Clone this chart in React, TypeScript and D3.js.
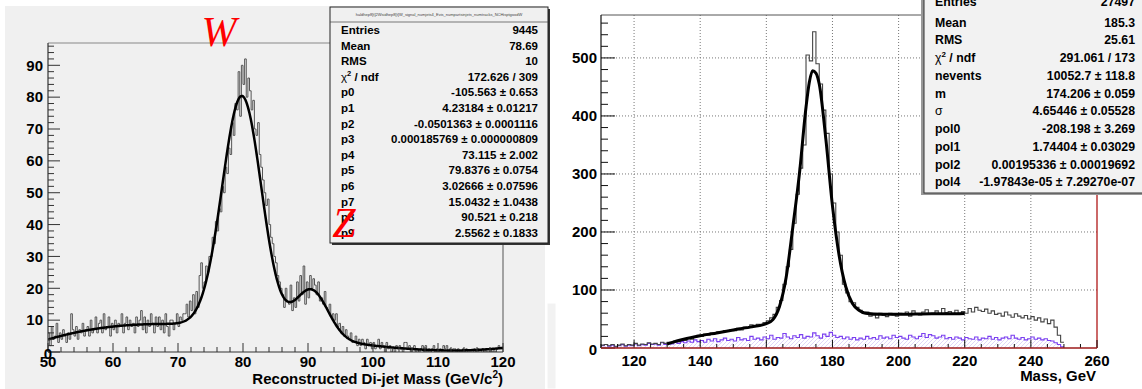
import React from 'react';
import * as d3 from 'd3';

const FONT = "'Liberation Sans', Arial, Helvetica, sans-serif";
const SERIF = "'Liberation Serif', 'Times New Roman', serif";

// ---------- left pad: reconstructed di-jet mass (W / Z) ----------
const wBinLo = 50;
const wBinWidth = 0.25;
// counts per bin, 50.00 .. 119.75 (one row per GeV)
const wCounts = [
  6, 2, 8, 4, 5, 9, 3, 6, 4, 7, 5, 3, 6, 4, 12, 7, 5, 8, 4, 7,
  6, 9, 5, 7, 8, 5, 10, 6, 7, 11, 6, 9, 10, 6, 12, 7, 8, 11, 5, 9,
  7, 10, 6, 9, 8, 12, 6, 9, 11, 7, 10, 8, 9, 6, 11, 8, 10, 13, 7, 11,
  6, 10, 8, 12, 9, 6, 11, 8, 11, 7, 10, 6, 12, 8, 5, 10, 10, 7, 9, 12,
  8, 11, 10, 12, 12, 15, 11, 16, 13, 18, 12, 19, 14, 24, 28, 20, 22, 27, 25, 30,
  30, 36, 34, 41, 38, 45, 44, 52, 50, 58, 56, 64, 62, 72, 68, 78, 76, 88, 74, 90,
  84, 92, 80, 86, 82, 76, 79, 70, 68, 72, 62, 58, 54, 50, 46, 48, 40, 36, 34, 30,
  28, 24, 22, 20, 18, 14, 20, 16, 15, 21, 13, 17, 14, 22, 16, 24, 18, 27, 15, 22,
  17, 24, 20, 23, 21, 18, 22, 16, 17, 15, 19, 14, 13, 15, 11, 12, 10, 12, 8, 9,
  6, 8, 5, 7, 5, 4, 6, 3, 3, 5, 2, 4, 2, 4, 3, 1, 4, 2, 3, 1,
  3, 1, 2, 4, 1, 3, 2, 0, 3, 1, 2, 0, 1, 0, 2, 1, 2, 1, 0, 3,
  3, 1, 2, 0, 1, 2, 0, 1, 0, 1, 2, 0, 2, 0, 1, 0, 1, 2, 0, 1,
  0, 1, 0, 2, 1, 2, 0, 1, 0, 1, 1, 0, 1, 0, 0, 1, 0, 1, 0, 0,
  0, 0, 1, 0, 1, 0, 0, 1, 0, 1, 0, 0, 1, 0, 1, 0, 1, 2, 1, 1,
];
// fit parameters as printed in the stat box (pol3 + gaus + gaus)
const wFitPoly = [-105.563, 4.23184, -0.0501363, 0.000185769];
const wFitGausW = [73.115, 79.8376, 3.02666];
const wFitGausZ = [15.0432, 90.521, 2.5562];
const wXTicks = [50, 60, 70, 80, 90, 100, 110, 120];
const wYTicks = [0, 10, 20, 30, 40, 50, 60, 70, 80, 90];
const wStatLabels = ['Entries', 'Mean', 'RMS', 'chi2', 'p0', 'p1', 'p2', 'p3', 'p4', 'p5', 'p6', 'p7', 'p8', 'p9'];
const wStatValues = [
  '9445', '78.69', '10', '172.626 / 309',
  '-105.563 ± 0.653', '4.23184 ± 0.01217', '-0.0501363 ± 0.0001116',
  '0.000185769 ± 0.000000809', '73.115 ± 2.002', '79.8376 ± 0.0754',
  '3.02666 ± 0.07596', '15.0432 ± 1.0438', '90.521 ± 0.218', '2.5562 ± 0.1833',
];
const wBoxTitle = 'haldhep8[t]2Wsidhep8[t]W_signal_numjets4_Evis_numpartsinjets_numtracks_NCHisptgoodW';

// ---------- right pad: top mass ----------
const tBinLo = 110;
const tBinWidth = 1;
// total, 110 .. 249
const tTotal = [
  5, 6, 4, 6, 3, 5, 7, 4, 6, 5,
  8, 5, 7, 6, 9, 7, 8, 6, 10, 8,
  10, 9, 12, 11, 14, 13, 17, 15, 19, 22,
  20, 24, 22, 26, 25, 28, 27, 30, 29, 32,
  30, 34, 31, 36, 35, 40, 37, 41, 39, 44,
  47, 52, 58, 70, 82, 110, 140, 170, 215, 265,
  310, 350, 505, 495, 545, 490, 455, 410, 370, 300,
  250, 200, 160, 110, 95, 80, 78, 70, 65, 60,
  62, 55, 58, 52, 60, 56, 54, 60, 57, 55,
  60, 58, 62, 55, 64, 59, 57, 62, 66, 58,
  60, 64, 59, 68, 61, 63, 58, 65, 60, 63,
  60, 68, 62, 70, 65, 63, 67, 60, 64, 58,
  60, 55, 62, 57, 53, 59, 55, 52, 56, 50,
  54, 48, 52, 45, 50, 42, 48, 36, 22, 10,
];
// background component, 110 .. 249
const tBkg = [
  4, 6, 3, 5, 2, 4, 6, 3, 5, 4,
  7, 4, 6, 5, 8, 6, 7, 5, 9, 6,
  8, 7, 10, 8, 11, 9, 12, 10, 14, 11,
  13, 10, 15, 12, 16, 11, 14, 17, 13, 15,
  12, 18, 14, 16, 13, 20, 15, 17, 14, 19,
  16, 22, 15, 18, 17, 25, 19, 16, 21, 18,
  23, 17, 20, 19, 26, 21, 17, 24, 20, 27,
  22, 18, 20, 16, 19, 15, 18, 14, 17, 15,
  20, 16, 18, 15, 21, 17, 19, 16, 22, 18,
  20, 17, 15, 22, 19, 16, 20, 25, 18, 23,
  21, 17, 19, 22, 16, 18, 15, 19, 17, 14,
  18, 16, 15, 19, 14, 17, 16, 20, 15, 18,
  14, 17, 19, 16, 22, 17, 15, 18, 14, 16,
  19, 15, 17, 14, 16, 13, 12, 9, 6, 2,
];
const tFitX = [130, 135, 140, 145, 150, 155, 160, 162, 164, 166, 168, 170, 172, 173, 174, 175, 176, 178, 180, 182, 184, 186, 188, 190, 195, 200, 205, 210, 215, 220];
const tFitY = [7, 15, 21, 26, 31, 36, 42, 49, 72, 122, 208, 300, 415, 458, 478, 474, 455, 360, 245, 160, 106, 77, 65, 60, 58, 58, 58.5, 59, 59, 59.5];
const tXTicks = [120, 140, 160, 180, 200, 220, 240, 260];
const tYTicks = [0, 100, 200, 300, 400, 500];
const tStatLabels = ['Entries', 'Mean', 'RMS', 'chi2', 'nevents', 'm', 'σ', 'pol0', 'pol1', 'pol2', 'pol4'];
const tStatValues = [
  '27497', '185.3', '25.61', '291.061 / 173', '10052.7 ± 118.8', '174.206 ± 0.059',
  '4.65446 ± 0.05528', '-208.198 ± 3.269', '1.74404 ± 0.03029',
  '0.00195336 ± 0.00019692', '-1.97843e-05 ± 7.29270e-07',
];

type Scale = d3.ScaleLinear<number, number>;

function histPath(counts: number[], lo: number, w: number, x: Scale, y: Scale) {
  const pts: [number, number][] = counts.map((c, i) => [lo + i * w, c]);
  pts.push([lo + counts.length * w, counts[counts.length - 1]]);
  return d3
    .line<[number, number]>()
    .x((d) => x(d[0]))
    .y((d) => y(d[1]))
    .curve(d3.curveStepAfter)(pts) as string;
}

function histArea(counts: number[], lo: number, w: number, x: Scale, y: Scale) {
  const pts: [number, number][] = counts.map((c, i) => [lo + i * w, c]);
  pts.push([lo + counts.length * w, counts[counts.length - 1]]);
  return d3
    .area<[number, number]>()
    .x((d) => x(d[0]))
    .y0(y(0))
    .y1((d) => y(d[1]))
    .curve(d3.curveStepAfter)(pts) as string;
}

function StatLabel({ label, x, y, size }: { label: string; x: number; y: number; size: number }) {
  if (label === 'chi2') {
    return (
      <text x={x} y={y} dy="0.35em" fontSize={size} fontFamily={FONT} fontWeight="bold">
        <tspan fontWeight="normal">χ</tspan>
        <tspan dy={-size * 0.4} fontSize={size * 0.65}>2</tspan>
        <tspan dy={size * 0.4}> / ndf</tspan>
      </text>
    );
  }
  return (
    <text x={x} y={y} dy="0.35em" fontSize={size} fontFamily={FONT} fontWeight={label === 'σ' ? 'normal' : 'bold'}>
      {label}
    </text>
  );
}

const App = () => {
  // left scales
  const xL = d3.scaleLinear().domain([50, 120]).range([48, 503]);
  const yL = d3.scaleLinear().domain([0, 97]).range([352, 43]);
  // right scales
  const xR = d3.scaleLinear().domain([110, 260]).range([601, 1097]);
  const yR = d3.scaleLinear().domain([0, 574]).range([348, 15]);

  const wFit = d3.range(50, 120.001, 0.1).map((m) => {
    const poly = wFitPoly.reduce((s, p, k) => s + p * Math.pow(m, k), 0);
    const g1 = wFitGausW[0] * Math.exp(-0.5 * Math.pow((m - wFitGausW[1]) / wFitGausW[2], 2));
    const g2 = wFitGausZ[0] * Math.exp(-0.5 * Math.pow((m - wFitGausZ[1]) / wFitGausZ[2], 2));
    return [m, poly + g1 + g2] as [number, number];
  });
  const wFitPath = d3
    .line<[number, number]>()
    .x((d) => xL(d[0]))
    .y((d) => yL(d[1]))(wFit) as string;

  const tFitPath = d3
    .line<number>()
    .x((d) => xR(d))
    .y((_, i) => yR(tFitY[i]))
    .curve(d3.curveMonotoneX)(tFitX) as string;

  const wMinorY = d3.range(0, 97, 2);
  const wMinorX = d3.range(50, 120.01, 2);
  const tMinorY = d3.range(0, 574, 20);
  const tMinorX = d3.range(110, 260.01, 5);

  return (
    <svg width={1142} height={389} style={{ position: 'absolute', left: 0, top: 0 }} fontFamily={FONT}>
      <defs>
        <pattern id="hatch" patternUnits="userSpaceOnUse" width={4} height={4}>
          <path d="M0,4 L4,0 M-1,1 L1,-1 M3,5 L5,3" stroke="#cbbaf4" strokeWidth={0.6} />
        </pattern>
        <clipPath id="clipL">
          <rect x={48} y={43} width={455} height={309} />
        </clipPath>
        <clipPath id="clipR">
          <rect x={601} y={15} width={496} height={333} />
        </clipPath>
      </defs>
      <rect x={0} y={0} width={1142} height={389} fill="#fff" />

      {/* ---------------- left pad ---------------- */}
      <rect x={5} y={6} width={540} height={383} fill="#f0f0f0" />
      <rect x={547} y={303} width={9} height={86} fill="#f2f2f2" stroke="#fff" />
      <line x1={48} x2={503} y1={43} y2={43} stroke="#888" strokeWidth={1.2} />
      <line x1={503} x2={503} y1={43} y2={352} stroke="#555" strokeWidth={1} />

      <g clipPath="url(#clipL)">
        <path d={histPath(wCounts, wBinLo, wBinWidth, xL, yL)} fill="none" stroke="#555" strokeWidth={1} />
        <path d={wFitPath} fill="none" stroke="#000" strokeWidth={2.5} />
      </g>

      {/* left axes */}
      <line x1={48} x2={48} y1={43} y2={352} stroke="#333" strokeWidth={1.2} />
      <line x1={48} x2={503} y1={352} y2={352} stroke="#333" strokeWidth={1.2} />
      {wMinorY.map((v) => (
        <line key={'wmy' + v} x1={48} x2={v % 10 === 0 ? 60 : 54} y1={yL(v)} y2={yL(v)} stroke="#333" strokeWidth={1} />
      ))}
      {wMinorX.map((v) => (
        <line key={'wmx' + v} x1={xL(v)} x2={xL(v)} y1={352} y2={v % 10 === 0 ? 343 : 347} stroke="#333" strokeWidth={1} />
      ))}
      {wYTicks.map((v) => (
        <text key={'wyt' + v} x={v === 0 ? 52 : 43} y={v === 0 ? yL(v) + 2 : yL(v)} dy="0.35em" textAnchor="end" fontSize={15} fontWeight="bold">
          {v}
        </text>
      ))}
      {wXTicks.map((v) => (
        <text key={'wxt' + v} x={xL(v)} y={367} textAnchor="middle" fontSize={15} fontWeight="bold">
          {v}
        </text>
      ))}
      <text x={503} y={384} textAnchor="end" fontSize={15} fontWeight="bold">
        Reconstructed Di-jet Mass (GeV/c
        <tspan dy={-6} fontSize={10}>2</tspan>
        <tspan dy={6}>)</tspan>
      </text>

      {/* left stat box */}
      <rect x={332} y={9} width={218} height={236} fill="#333" />
      <rect x={330} y={7} width={218} height={236} fill="#f0f0f0" stroke="#222" strokeWidth={1} />
      <line x1={330} x2={548} y1={22} y2={22} stroke="#444" strokeWidth={0.7} />
      <text x={439} y={16} textAnchor="middle" fontSize={4} fill="#444">
        {wBoxTitle}
      </text>
      {wStatLabels.map((l, i) => (
        <StatLabel key={'wsl' + i} label={l} x={341} y={30 + 15.6 * i} size={11.5} />
      ))}
      {wStatValues.map((v, i) => (
        <text key={'wsv' + i} x={538} y={30 + 15.6 * i} dy="0.35em" textAnchor="end" fontSize={11.5} fontWeight="bold">
          {v}
        </text>
      ))}

      <text x={219} y={46} textAnchor="middle" fontSize={42} fontStyle="italic" fontFamily={SERIF} fill="#ff0000">
        W
      </text>
      <text x={344} y={237} textAnchor="middle" fontSize={42} fontStyle="italic" fontFamily={SERIF} fill="#ff0000">
        Z
      </text>

      {/* ---------------- right pad ---------------- */}
      {tXTicks.filter((v) => v < 260).map((v) => (
        <line key={'tgx' + v} x1={xR(v)} x2={xR(v)} y1={15} y2={348} stroke="#777" strokeWidth={1} strokeDasharray="1,2" />
      ))}
      {tYTicks.filter((v) => v > 0).map((v) => (
        <line key={'tgy' + v} x1={601} x2={1097} y1={yR(v)} y2={yR(v)} stroke="#777" strokeWidth={1} strokeDasharray="1,2" />
      ))}

      <g clipPath="url(#clipR)">
        <path d={histArea(tBkg, tBinLo, tBinWidth, xR, yR)} fill="url(#hatch)" stroke="none" />
        <path d={histPath(tBkg, tBinLo, tBinWidth, xR, yR)} fill="none" stroke="#7a3ff0" strokeWidth={1.1} />
        <path d={histPath(tTotal, tBinLo, tBinWidth, xR, yR)} fill="none" stroke="#444" strokeWidth={1.1} />
        <path d={tFitPath} fill="none" stroke="#000" strokeWidth={3} />
      </g>

      <line x1={601} x2={1097} y1={15} y2={15} stroke="#555" strokeWidth={1} />
      <line x1={601} x2={601} y1={15} y2={348} stroke="#111" strokeWidth={1.2} />
      <line x1={1097} x2={1097} y1={15} y2={348} stroke="#b01818" strokeWidth={1.3} />
      {tMinorY.map((v) => (
        <line key={'tmy' + v} x1={601} x2={v % 100 === 0 ? 615 : 608} y1={yR(v)} y2={yR(v)} stroke="#111" strokeWidth={1} />
      ))}
      {tMinorX.map((v) => (
        <line key={'tmx' + v} x1={xR(v)} x2={xR(v)} y1={348} y2={(v - 120) % 20 === 0 ? 340 : 344} stroke="#111" strokeWidth={1} />
      ))}
      <line x1={601} x2={1097} y1={348} y2={348} stroke="#9c1a1a" strokeWidth={1.6} />
      {tYTicks.map((v) => (
        <text key={'tyt' + v} x={597} y={v === 0 ? yR(v) + 2 : yR(v)} dy="0.35em" textAnchor="end" fontSize={15} fontWeight="bold">
          {v}
        </text>
      ))}
      {tXTicks.map((v) => (
        <text key={'txt' + v} x={xR(v)} y={366} textAnchor="middle" fontSize={15} fontWeight="bold">
          {v}
        </text>
      ))}
      <text x={1096} y={381} textAnchor="end" fontSize={15} fontWeight="bold">
        Mass, GeV
      </text>

      {/* right stat box */}
      <rect x={921} y={-5} width={230} height={200} fill="#999" />
      <rect x={924} y={-5} width={230} height={198} fill="#f2f2f2" stroke="#333" strokeWidth={1} />
      {tStatLabels.map((l, i) => (
        <StatLabel key={'tsl' + i} label={l} x={935} y={i === 0 ? 1.5 : 4.5 + 17.75 * i} size={12.3} />
      ))}
      {tStatValues.map((v, i) => (
        <text key={'tsv' + i} x={1135} y={i === 0 ? 1.5 : 4.5 + 17.75 * i} dy="0.35em" textAnchor="end" fontSize={12.3} fontWeight="bold">
          {v}
        </text>
      ))}
    </svg>
  );
};

export default App;
